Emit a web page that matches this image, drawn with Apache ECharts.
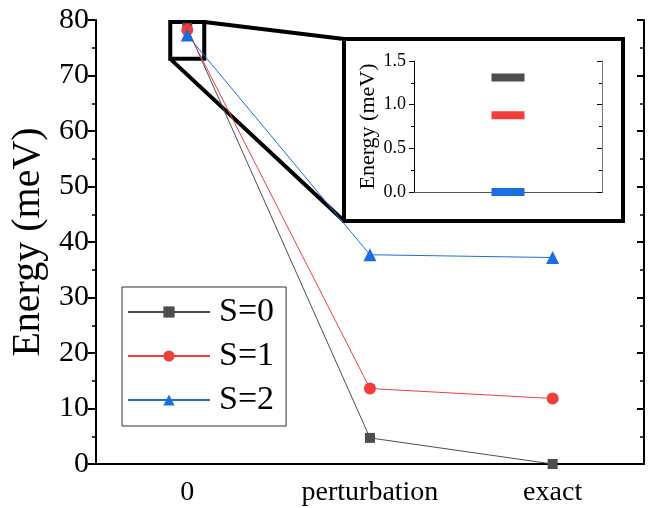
<!DOCTYPE html>
<html>
<head>
<meta charset="utf-8">
<script src="https://cdn.jsdelivr.net/npm/echarts@6/dist/echarts.min.js"></script>
<style>
  html, body { margin: 0; padding: 0; background: #fff; }
  #chart { width: 652px; height: 508px; }
</style>
</head>
<body>
<div id="chart"></div>
<script>
// data
const categories = ['0', 'perturbation', 'exact'];
const seriesNames = ['S=0', 'S=1', 'S=2'];
const s0 = [78.6, 4.7, 0];
const s1 = [78.2, 13.6, 11.8];
const s2 = [77.3, 37.7, 37.2];
// inset: energies at "0" relative to S=2
const insetCategory = ['0'];
const insetValues = [1.31, 0.88, 0.0];

const colors = ['#4d4d4d', '#f23d3d', '#1a6fe0'];
const symbols = ['rect', 'circle', 'triangle'];
const symbolSizes = [10, 12, 13];
const font = '"Liberation Serif", "Times New Roman", serif';

// zoomed region of the main plot (value range shown in the inset)
const zoomTop = 80;
const zoomBottom = 73;

const chart = echarts.init(document.getElementById('chart'));

const mainSeries = [s0, s1, s2].map((d, i) => ({
  name: seriesNames[i],
  type: 'line',
  xAxisIndex: 0,
  yAxisIndex: 0,
  data: d,
  symbol: symbols[i],
  symbolSize: symbolSizes[i],
  showAllSymbol: true,
  itemStyle: { color: colors[i] },
  lineStyle: { color: colors[i], width: 1 },
  z: 3
}));

const insetSeries = insetValues.map((v, i) => ({
  name: 'inset' + i,
  type: 'scatter',
  xAxisIndex: 2,
  yAxisIndex: 2,
  data: [[0, v]],
  symbol: 'rect',
  symbolSize: [33, 8],
  itemStyle: { color: colors[i], opacity: 1 },
  z: 3
}));

chart.setOption({
  animation: false,
  grid: [
    { left: 94, right: 8, top: 20, bottom: 44 },
    { left: 414, top: 61, width: 188, height: 131 }
  ],
  legend: {
    data: seriesNames,
    orient: 'vertical',
    left: 122,
    top: 287,
    itemWidth: 82,
    itemHeight: 14,
    itemGap: 10,
    borderColor: '#333',
    borderWidth: 1,
    borderRadius: 0,
    padding: [8, 12, 9, 5],
    textStyle: { fontFamily: font, fontSize: 34, color: '#000', padding: [0, 0, 0, 4] }
  },
  xAxis: [
    {
      gridIndex: 0,
      type: 'category',
      data: categories,
      axisLine: { lineStyle: { color: '#000', width: 2 } },
      axisTick: { alignWithLabel: true, length: 8, lineStyle: { color: '#000', width: 2 } },
      axisLabel: { fontFamily: font, fontSize: 28, color: '#000', margin: 15 }
    },
    {
      gridIndex: 0,
      type: 'category',
      data: categories,
      position: 'top',
      axisLine: { lineStyle: { color: '#000', width: 1.5 } },
      axisTick: { show: false },
      axisLabel: { show: false }
    },
    {
      gridIndex: 1,
      type: 'category',
      data: insetCategory,
      axisLine: { onZero: false, lineStyle: { color: '#000', width: 1 } },
      axisTick: { alignWithLabel: true, length: 5, lineStyle: { color: '#000' } },
      axisLabel: { show: false }
    },
    {
      gridIndex: 1,
      type: 'category',
      data: insetCategory,
      position: 'top',
      axisLine: { lineStyle: { color: '#555', width: 1 } },
      axisTick: { alignWithLabel: true, inside: true, length: 5, lineStyle: { color: '#000' } },
      axisLabel: { show: false }
    }
  ],
  yAxis: [
    {
      gridIndex: 0,
      type: 'value',
      min: 0,
      max: 80,
      interval: 10,
      name: 'Energy (meV)',
      nameLocation: 'middle',
      nameGap: 46,
      nameTextStyle: { fontFamily: font, fontSize: 40, color: '#000' },
      axisLine: { show: true, lineStyle: { color: '#000', width: 2 } },
      axisTick: { show: true, length: 8, lineStyle: { color: '#000', width: 2 } },
      minorTick: { show: true, splitNumber: 2, length: 4, lineStyle: { color: '#000', width: 1.5 } },
      splitLine: { show: false },
      axisLabel: { fontFamily: font, fontSize: 30, color: '#000', margin: 7 }
    },
    {
      gridIndex: 0,
      type: 'value',
      position: 'right',
      min: 0,
      max: 80,
      interval: 10,
      axisLine: { show: true, lineStyle: { color: '#000', width: 2 } },
      axisTick: { show: true, inside: true, length: 7, lineStyle: { color: '#000', width: 2 } },
      minorTick: { show: true, splitNumber: 2, length: 4, lineStyle: { color: '#000', width: 1.5 } },
      splitLine: { show: false },
      axisLabel: { show: false }
    },
    {
      gridIndex: 1,
      type: 'value',
      min: 0,
      max: 1.5,
      interval: 0.5,
      name: 'Energy (meV)',
      nameLocation: 'middle',
      nameGap: 33,
      nameTextStyle: { fontFamily: font, fontSize: 22, color: '#000' },
      axisLine: { show: true, lineStyle: { color: '#000', width: 1 } },
      axisTick: { show: true, length: 5, lineStyle: { color: '#000' } },
      minorTick: { show: true, splitNumber: 2, length: 3, lineStyle: { color: '#000' } },
      splitLine: { show: false },
      axisLabel: {
        fontFamily: font, fontSize: 18, color: '#000', margin: 8,
        formatter: v => v.toFixed(1)
      }
    },
    {
      gridIndex: 1,
      type: 'value',
      position: 'right',
      min: 0,
      max: 1.5,
      interval: 0.5,
      axisLine: { show: true, lineStyle: { color: '#777', width: 1 } },
      axisTick: { show: true, inside: true, length: 5, lineStyle: { color: '#000' } },
      minorTick: { show: true, splitNumber: 2, length: 3, lineStyle: { color: '#000' } },
      splitLine: { show: false },
      axisLabel: { show: false }
    }
  ],
  series: mainSeries.concat(insetSeries)
});

// zoom box around category "0" and the thick lines that lead to the inset frame
const tl = chart.convertToPixel({ gridIndex: 0 }, [0, zoomTop]);
const bl = chart.convertToPixel({ gridIndex: 0 }, [0, zoomBottom]);
const halfW = 17;
const boxL = tl[0] - halfW, boxR = tl[0] + halfW;
const boxT = tl[1] + 2, boxB = bl[1];
const inset = { x: 344, y: 39, w: 279, h: 182 };

chart.setOption({
  graphic: [
    {
      type: 'rect', z: 1,
      shape: { x: boxL, y: boxT, width: boxR - boxL, height: boxB - boxT },
      style: { fill: 'none', stroke: '#000', lineWidth: 4 }
    },
    {
      type: 'line', z: 1,
      shape: { x1: boxR, y1: boxT, x2: inset.x, y2: inset.y },
      style: { stroke: '#000', lineWidth: 4 }
    },
    {
      type: 'line', z: 1,
      shape: { x1: boxL, y1: boxB, x2: inset.x, y2: inset.y + inset.h },
      style: { stroke: '#000', lineWidth: 4 }
    },
    {
      type: 'rect', z: 1,
      shape: { x: inset.x, y: inset.y, width: inset.w, height: inset.h },
      style: { fill: 'none', stroke: '#000', lineWidth: 4 }
    }
  ]
});
</script>
</body>
</html>
